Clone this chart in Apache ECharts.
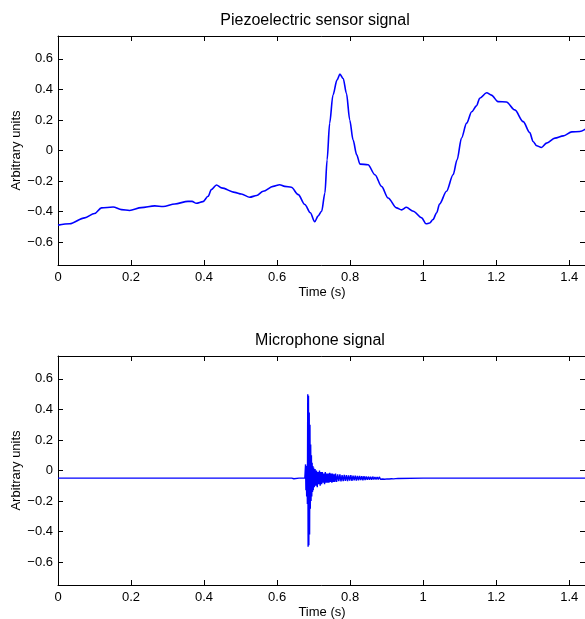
<!DOCTYPE html>
<html>
<head>
<meta charset="utf-8">
<script src="https://cdn.jsdelivr.net/npm/echarts@6/dist/echarts.min.js"></script>
<style>
html,body{margin:0;padding:0;background:#fff;}
#chart{width:585px;height:619px;}
</style>
</head>
<body>
<div id="chart"></div>
<script>
// ---- data ----
const titles = ['Piezoelectric sensor signal', 'Microphone signal'];
const xName = 'Time (s)';
const yName = 'Arbitrary units';
const xTicks = [0, 0.2, 0.4, 0.6, 0.8, 1, 1.2, 1.4];
const yTicks = [-0.6, -0.4, -0.2, 0, 0.2, 0.4, 0.6];

const piezoT = [0, 0.032, 0.073, 0.1, 0.119, 0.151, 0.174, 0.196, 0.228, 0.265, 0.288, 0.32, 0.356, 0.367, 0.379, 0.397,
  0.411, 0.42, 0.434, 0.448, 0.484, 0.502, 0.525, 0.544, 0.562, 0.589, 0.607, 0.621, 0.639, 0.658, 0.676, 0.691,
  0.703, 0.712, 0.722, 0.731, 0.737, 0.744, 0.753, 0.764, 0.772, 0.781, 0.79, 0.799, 0.808, 0.818, 0.827, 0.849,
  0.868, 0.886, 0.904, 0.927, 0.941, 0.954, 0.973, 0.996, 1.008, 1.018, 1.027, 1.037, 1.045, 1.064, 1.082, 1.093,
  1.105, 1.119, 1.133, 1.146, 1.155, 1.174, 1.187, 1.205, 1.228, 1.251, 1.274, 1.292, 1.301, 1.311, 1.324, 1.338,
  1.361, 1.384, 1.407, 1.429, 1.446];
const piezoV = [-0.489, -0.48, -0.441, -0.413, -0.376, -0.37, -0.387, -0.393, -0.374, -0.363, -0.367, -0.35, -0.333, -0.333, -0.346, -0.335,
  -0.3, -0.256, -0.226, -0.245, -0.274, -0.285, -0.306, -0.295, -0.267, -0.235, -0.224, -0.235, -0.241, -0.289, -0.354, -0.408,
  -0.467, -0.43, -0.398, -0.278, -0.061, 0.179, 0.363, 0.461, 0.5, 0.472, 0.374, 0.2, 0.07, -0.028, -0.089, -0.093,
  -0.159, -0.235, -0.311, -0.376, -0.389, -0.372, -0.398, -0.441, -0.48, -0.475, -0.452, -0.408, -0.35, -0.267, -0.159, -0.061,
  0.081, 0.179, 0.254, 0.292, 0.342, 0.378, 0.363, 0.32, 0.318, 0.266, 0.189, 0.117, 0.059, 0.031, 0.02, 0.048,
  0.081, 0.096, 0.122, 0.124, 0.142];

const micPoints = [
  [0, -0.05], [0.06, -0.05], [0.061, -0.054], [0.062, -0.05], [0.13, -0.05], [0.131, -0.046], [0.132, -0.05],
  [0.15, -0.05], [0.151, -0.054], [0.152, -0.05], [0.29, -0.05], [0.291, -0.046], [0.292, -0.05],
  [0.44, -0.05], [0.441, -0.055], [0.442, -0.05], [0.47, -0.05], [0.471, -0.046], [0.472, -0.05],
  [0.62, -0.05], [0.621, -0.054], [0.622, -0.05], [0.64, -0.05], [0.642, -0.055], [0.644, -0.046], [0.646, -0.054],
  [0.648, -0.047], [0.65, -0.05], [0.66, -0.05], [0.662, -0.054], [0.664, -0.047], [0.666, -0.05],
  [0.676, -0.05], [0.677, -0.04], [0.678, 0.04], [0.679, -0.13], [0.68, 0.03], [0.681, -0.17], [0.682, 0.02],
  [0.683, -0.22], [0.684, 0.5], [0.685, -0.5], [0.686, 0.49], [0.687, -0.49], [0.688, 0.38], [0.689, -0.42],
  [0.69, 0.3], [0.691, -0.25], [0.692, 0.17], [0.693, -0.2], [0.694, 0.1], [0.695, -0.17], [0.696, 0.05],
  [0.697, -0.14], [0.698, 0.03], [0.699, -0.13],
  [0.7, 0.02], [0.702, -0.11], [0.704, 0.01], [0.706, -0.1], [0.708, 0.0], [0.71, -0.11], [0.712, -0.01],
  [0.714, -0.09], [0.716, 0.0], [0.718, -0.1], [0.72, -0.01], [0.722, -0.09], [0.724, -0.01], [0.726, -0.08],
  [0.728, -0.02], [0.73, -0.09], [0.732, -0.01], [0.734, -0.08], [0.736, -0.02], [0.738, -0.08], [0.74, -0.02],
  [0.742, -0.08], [0.744, -0.015], [0.746, -0.075], [0.748, -0.02], [0.75, -0.08], [0.752, -0.02], [0.754, -0.075],
  [0.756, -0.025], [0.758, -0.075], [0.76, -0.02], [0.763, -0.075], [0.766, -0.025], [0.769, -0.07], [0.772, -0.025],
  [0.775, -0.072], [0.778, -0.03], [0.781, -0.07], [0.784, -0.028], [0.787, -0.068], [0.79, -0.03], [0.793, -0.07],
  [0.796, -0.032], [0.799, -0.066], [0.802, -0.03], [0.805, -0.068], [0.808, -0.033], [0.811, -0.065], [0.814, -0.034],
  [0.817, -0.066], [0.82, -0.035], [0.823, -0.064], [0.826, -0.036], [0.829, -0.063], [0.832, -0.038], [0.835, -0.064],
  [0.838, -0.037], [0.841, -0.062], [0.844, -0.039], [0.847, -0.061], [0.85, -0.04], [0.853, -0.06], [0.856, -0.041],
  [0.859, -0.061], [0.862, -0.04], [0.865, -0.059], [0.868, -0.042], [0.871, -0.058], [0.874, -0.043], [0.877, -0.058],
  [0.88, -0.042], [0.883, -0.057], [0.886, -0.044], [0.889, -0.056], [0.892, -0.044], [0.895, -0.057], [0.898, -0.045],
  [0.901, -0.055], [0.904, -0.046], [0.907, -0.056], [0.91, -0.045], [0.913, -0.054], [0.916, -0.047], [0.919, -0.055],
  [0.922, -0.046], [0.925, -0.053], [0.928, -0.048], [0.931, -0.052], [0.934, -0.05],
  [1.0, -0.05], [1.001, -0.055], [1.002, -0.046], [1.003, -0.05], [1.05, -0.05], [1.051, -0.054], [1.052, -0.05],
  [1.1, -0.05], [1.101, -0.055], [1.102, -0.05], [1.22, -0.05], [1.221, -0.054], [1.222, -0.05],
  [1.27, -0.05], [1.271, -0.054], [1.272, -0.05], [1.3, -0.05], [1.301, -0.055], [1.302, -0.05],
  [1.37, -0.05], [1.371, -0.054], [1.372, -0.05], [1.446, -0.05]
];

// ---- chart ----
const FONT = 'Liberation Sans, Arial, Helvetica, sans-serif';
const X_MIN = 0, X_MAX = 1.446, Y_MIN = -0.75, Y_MAX = 0.75;
const fmt = v => {
  const r = Math.round(v * 10) / 10;
  return (Math.abs(r) < 1e-9 ? '0' : String(r)).replace('-', '\u2212');
};
const grids = [
  { left: 58, top: 36, width: 528, height: 229, containLabel: false, outerBoundsMode: 'none' },
  { left: 58, top: 356, width: 528, height: 229, containLabel: false, outerBoundsMode: 'none' }
];
const axisLine = { show: true, onZero: false, lineStyle: { color: '#000', width: 1 } };
const xAxes = [], yAxes = [];
grids.forEach((g, i) => {
  xAxes.push({
    type: 'value', gridIndex: i, position: 'bottom', min: X_MIN, max: X_MAX,
    name: xName, nameLocation: 'middle', nameGap: 21, nameMoveOverlap: false,
    nameTextStyle: { fontFamily: FONT, fontSize: 13, color: '#000' },
    axisLine: axisLine,
    axisTick: { show: true, inside: true, length: 5, customValues: xTicks, lineStyle: { color: '#000' } },
    axisLabel: { show: true, customValues: xTicks, formatter: fmt, margin: 6, fontFamily: FONT, fontSize: 13, color: '#000' },
    splitLine: { show: false }
  });
  xAxes.push({
    type: 'value', gridIndex: i, position: 'top', min: X_MIN, max: X_MAX,
    axisLine: axisLine,
    axisTick: { show: true, inside: true, length: 5, customValues: xTicks, lineStyle: { color: '#000' } },
    axisLabel: { show: false },
    splitLine: { show: false }
  });
  yAxes.push({
    type: 'value', gridIndex: i, position: 'left', min: Y_MIN, max: Y_MAX,
    name: yName, nameLocation: 'middle', nameGap: 35, nameMoveOverlap: false,
    nameTextStyle: { fontFamily: FONT, fontSize: 13, color: '#000' },
    axisLine: axisLine,
    axisTick: { show: true, inside: true, length: 5, customValues: yTicks, lineStyle: { color: '#000' } },
    axisLabel: { show: true, customValues: yTicks, formatter: fmt, margin: 5, fontFamily: FONT, fontSize: 13, color: '#000' },
    splitLine: { show: false }
  });
  yAxes.push({
    type: 'value', gridIndex: i, position: 'right', min: Y_MIN, max: Y_MAX,
    axisLine: axisLine,
    axisTick: { show: true, inside: true, length: 6, customValues: yTicks, lineStyle: { color: '#000' } },
    axisLabel: { show: false },
    splitLine: { show: false }
  });
});

const chart = echarts.init(document.getElementById('chart'), null, { renderer: 'canvas' });
chart.setOption({
  animation: false,
  backgroundColor: '#fff',
  grid: grids,
  xAxis: xAxes,
  yAxis: yAxes,
  graphic: [
    { type: 'text', x: 315, y: 20.5, style: { text: titles[0], align: 'center', verticalAlign: 'middle', font: '16px ' + FONT, fill: '#000' } },
    { type: 'text', x: 320, y: 340.5, style: { text: titles[1], align: 'center', verticalAlign: 'middle', font: '16px ' + FONT, fill: '#000' } }
  ],
  series: [
    {
      type: 'line', xAxisIndex: 0, yAxisIndex: 0,
      data: piezoT.map((t, k) => [t, piezoV[k]]),
      showSymbol: false, smooth: 0.3, smoothMonotone: 'x',
      lineStyle: { color: '#0000ff', width: 1.6 }, itemStyle: { color: '#0000ff' }
    },
    {
      type: 'line', xAxisIndex: 2, yAxisIndex: 2,
      data: micPoints,
      showSymbol: false,
      lineStyle: { color: '#0000ff', width: 1.4 }, itemStyle: { color: '#0000ff' }
    }
  ]
});
</script>
</body>
</html>
